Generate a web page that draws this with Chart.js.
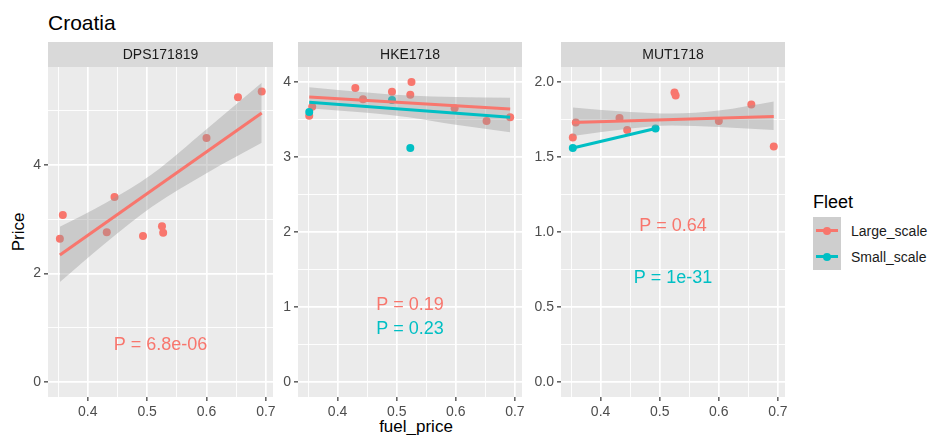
<!DOCTYPE html>
<html>
<head>
<meta charset="utf-8">
<script src="https://cdn.jsdelivr.net/npm/chart.js@4.4.1/dist/chart.umd.min.js"></script>
<style>
  body { margin: 0; background: #fff; width: 930px; height: 435px; position: relative; overflow: hidden;
         font-family: 'Liberation Sans', Arial, sans-serif; }
  canvas { position: absolute; }
  .txt { position: absolute; white-space: nowrap; line-height: 1; color: #000; }
  .key { position: absolute; background: #CECECE; }
  .kline { position: absolute; height: 3px; }
  .kdot { position: absolute; width: 8px; height: 8px; border-radius: 50%; }
</style>
</head>
<body>
<div class="txt" style="left:48px; top:12px; font-size:21px;">Croatia</div>
<div class="txt" style="left:18px; top:232px; font-size:17px; transform:translate(-50%,-50%) rotate(-90deg);">Price</div>
<div class="txt" style="left:416px; top:418px; font-size:17px; transform:translateX(-50%);">fuel_price</div>

<!-- legend -->
<div class="txt" style="left:813px; top:193px; font-size:18px;">Fleet</div>
<div class="key" style="left:813px; top:217px; width:28px; height:53px;"></div>
<div class="kline" style="left:816px; top:229px; width:22px; background:#F8766D;"></div>
<div class="kdot" style="left:823px; top:227px; background:#F8766D;"></div>
<div class="kline" style="left:816px; top:255px; width:22px; background:#00BFC4;"></div>
<div class="kdot" style="left:823px; top:253px; background:#00BFC4;"></div>
<div class="txt" style="left:851px; top:224px; font-size:14px; color:#1A1A1A;">Large_scale</div>
<div class="txt" style="left:851px; top:250px; font-size:14px; color:#1A1A1A;">Small_scale</div>

<canvas id="dps" width="280" height="393" style="left:0; top:42px;"></canvas>
<canvas id="hke" width="252" height="393" style="left:278px; top:42px;"></canvas>
<canvas id="mut" width="263" height="393" style="left:530px; top:42px;"></canvas>

<script>
const FONT = "'Liberation Sans', Arial, sans-serif";
const RED = '#F8766D';
const TEAL = '#00BFC4';

// shared x axis (fuel_price)
const xMajor = [0.4, 0.5, 0.6, 0.7];
const xMinor = [0.35, 0.45, 0.55, 0.65];
const xLabels = ['0.4', '0.5', '0.6', '0.7'];

// DPS171819 - Large_scale only
const dpsX = [0.358, 0.353, 0.432, 0.445, 0.493, 0.525, 0.527, 0.600, 0.653, 0.693];
const dpsY = [3.08, 2.64, 2.76, 3.41, 2.69, 2.87, 2.75, 4.50, 5.25, 5.36];
const dpsFitX = [0.353, 0.693];
const dpsFitY = [2.34, 4.96];
const dpsBandX = [0.353, 0.43, 0.508, 0.60, 0.693];
const dpsBandLo = [1.84, 2.56, 3.23, 3.85, 4.41];
const dpsBandHi = [2.86, 3.30, 3.83, 4.66, 5.52];
const dpsYMajor = [0, 2, 4];
const dpsYMinor = [1, 3, 5];
const dpsYLabels = ['0', '2', '4'];

// HKE1718
const hkeRedX = [0.352, 0.357, 0.430, 0.443, 0.492, 0.523, 0.525, 0.598, 0.652, 0.692];
const hkeRedY = [3.55, 3.67, 3.92, 3.77, 3.87, 3.83, 4.00, 3.65, 3.48, 3.53];
const hkeTealX = [0.352, 0.492, 0.523];
const hkeTealY = [3.60, 3.76, 3.12];
const hkeRedFitX = [0.352, 0.692];
const hkeRedFitY = [3.80, 3.64];
const hkeTealFitX = [0.352, 0.692];
const hkeTealFitY = [3.73, 3.53];
const hkeBandX = [0.352, 0.45, 0.52, 0.60, 0.692];
const hkeBandLo = [3.65, 3.59, 3.53, 3.43, 3.33];
const hkeBandHi = [3.93, 3.86, 3.82, 3.80, 3.79];
const hkeYMajor = [0, 1, 2, 3, 4];
const hkeYMinor = [0.5, 1.5, 2.5, 3.5];
const hkeYLabels = ['0', '1', '2', '3', '4'];

// MUT1718
const mutRedX = [0.353, 0.358, 0.432, 0.445, 0.525, 0.527, 0.600, 0.655, 0.693];
const mutRedY = [1.63, 1.73, 1.76, 1.68, 1.93, 1.91, 1.74, 1.85, 1.57];
const mutTealX = [0.353, 0.493];
const mutTealY = [1.56, 1.69];
const mutRedFitX = [0.353, 0.693];
const mutRedFitY = [1.73, 1.77];
const mutTealFitX = [0.353, 0.493];
const mutTealFitY = [1.56, 1.69];
const mutBandX = [0.353, 0.45, 0.52, 0.60, 0.693];
const mutBandLo = [1.64, 1.69, 1.71, 1.70, 1.68];
const mutBandHi = [1.83, 1.80, 1.79, 1.81, 1.87];
const mutYMajor = [0, 0.5, 1, 1.5, 2];
const mutYMinor = [0.25, 0.75, 1.25, 1.75];
const mutYLabels = ['0.0', '0.5', '1.0', '1.5', '2.0'];

// p-value annotations
const dpsP = [{ text: 'P = 6.8e-06', x: 0.5225, y: 0.68, color: RED }];
const hkeP = [{ text: 'P = 0.19', x: 0.5225, y: 1.03, color: RED },
              { text: 'P = 0.23', x: 0.5225, y: 0.70, color: TEAL }];
const mutP = [{ text: 'P = 0.64', x: 0.5225, y: 1.04, color: RED },
              { text: 'P = 1e-31', x: 0.5225, y: 0.69, color: TEAL }];

Chart.defaults.font.family = FONT;

function pts(xs, ys) {
    return xs.map((x, i) => ({ x: x, y: ys[i] }));
}

function axisOpts(major, minor, labels, extra) {
    const isMajor = v => major.indexOf(v) >= 0;
    return Object.assign({
        type: 'linear',
        afterBuildTicks: s => {
            s.ticks = major.concat(minor).sort((a, b) => a - b).map(v => ({ value: v }));
        },
        ticks: {
            autoSkip: false,
            maxRotation: 0,
            padding: 3,
            color: '#4D4D4D',
            font: { size: 14 },
            callback: v => isMajor(v) ? labels[major.indexOf(v)] : ''
        },
        grid: {
            color: '#FFFFFF',
            lineWidth: c => (c.tick && isMajor(c.tick.value)) ? 1.7 : 0.9,
            drawTicks: true,
            tickLength: 4,
            tickWidth: 1.2,
            tickColor: c => (c.tick && isMajor(c.tick.value)) ? '#333333' : 'rgba(0,0,0,0)'
        },
        border: { display: false }
    }, extra);
}

function makePanel(id, strip, yMin, yMax, yMajor, yMinor, yLabels, yWidth, padRight, series, pLabels) {
    const datasets = [];
    // fitted lines on top (teal above red), then the ribbon, then the points
    series.fits.forEach(f => datasets.push({
        data: pts(f.x, f.y), borderColor: f.color, borderWidth: 3,
        pointRadius: 0, fill: false, tension: 0
    }));
    datasets.push({
        data: pts(series.band.x, series.band.hi), borderWidth: 0, borderColor: 'rgba(0,0,0,0)',
        pointRadius: 0, fill: false, cubicInterpolationMode: 'monotone'
    });
    datasets.push({
        data: pts(series.band.x, series.band.lo), borderWidth: 0, borderColor: 'rgba(0,0,0,0)',
        pointRadius: 0, fill: '-1', backgroundColor: 'rgba(153,153,153,0.4)',
        cubicInterpolationMode: 'monotone'
    });
    series.points.forEach(p => datasets.push({
        data: pts(p.x, p.y), showLine: false, pointRadius: 4,
        pointBackgroundColor: p.color, pointBorderWidth: 0, borderColor: p.color
    }));

    const deco = {
        id: 'deco',
        beforeDraw(chart) {
            const { ctx, chartArea: a } = chart;
            ctx.save();
            ctx.fillStyle = '#EBEBEB';
            ctx.fillRect(a.left, a.top, a.right - a.left, a.bottom - a.top);
            ctx.fillStyle = '#D9D9D9';
            ctx.fillRect(a.left, a.top - 25, a.right - a.left, 25);
            ctx.fillStyle = '#1A1A1A';
            ctx.font = '14px ' + FONT;
            ctx.textAlign = 'center';
            ctx.textBaseline = 'middle';
            ctx.fillText(strip, (a.left + a.right) / 2, a.top - 12);
            ctx.restore();
        },
        afterDatasetsDraw(chart) {
            const { ctx, scales } = chart;
            ctx.save();
            ctx.font = '18px ' + FONT;
            ctx.textAlign = 'center';
            ctx.textBaseline = 'middle';
            pLabels.forEach(l => {
                ctx.fillStyle = l.color;
                ctx.fillText(l.text, scales.x.getPixelForValue(l.x), scales.y.getPixelForValue(l.y));
            });
            ctx.restore();
        }
    };

    new Chart(document.getElementById(id), {
        type: 'line',
        data: { datasets: datasets },
        options: {
            responsive: false,
            animation: false,
            devicePixelRatio: 1,
            layout: { padding: { top: 25, right: padRight, left: 0, bottom: 0 } },
            plugins: { legend: { display: false }, tooltip: { enabled: false } },
            scales: {
                x: axisOpts(xMajor, xMinor, xLabels, {
                    min: 0.333, max: 0.712,
                    afterFit: s => { s.height = 38; }
                }),
                y: axisOpts(yMajor, yMinor, yLabels, {
                    min: yMin, max: yMax,
                    afterFit: s => { s.width = yWidth; }
                })
            }
        },
        plugins: [deco]
    });
}

makePanel('dps', 'DPS171819', -0.28, 5.81, dpsYMajor, dpsYMinor, dpsYLabels, 48, 7, {
    fits: [{ x: dpsFitX, y: dpsFitY, color: RED }],
    band: { x: dpsBandX, lo: dpsBandLo, hi: dpsBandHi },
    points: [{ x: dpsX, y: dpsY, color: RED }]
}, dpsP);

makePanel('hke', 'HKE1718', -0.2, 4.2, hkeYMajor, hkeYMinor, hkeYLabels, 20, 8, {
    fits: [{ x: hkeTealFitX, y: hkeTealFitY, color: TEAL }, { x: hkeRedFitX, y: hkeRedFitY, color: RED }],
    band: { x: hkeBandX, lo: hkeBandLo, hi: hkeBandHi },
    points: [{ x: hkeTealX, y: hkeTealY, color: TEAL }, { x: hkeRedX, y: hkeRedY, color: RED }]
}, hkeP);

makePanel('mut', 'MUT1718', -0.1, 2.1, mutYMajor, mutYMinor, mutYLabels, 31, 8, {
    fits: [{ x: mutTealFitX, y: mutTealFitY, color: TEAL }, { x: mutRedFitX, y: mutRedFitY, color: RED }],
    band: { x: mutBandX, lo: mutBandLo, hi: mutBandHi },
    points: [{ x: mutTealX, y: mutTealY, color: TEAL }, { x: mutRedX, y: mutRedY, color: RED }]
}, mutP);
</script>
</body>
</html>
